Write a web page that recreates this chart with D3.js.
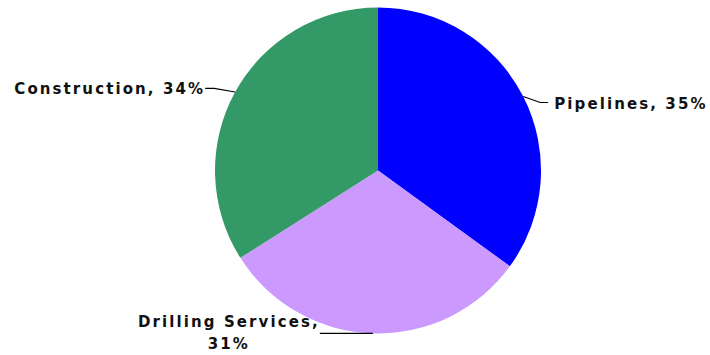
<!DOCTYPE html>
<html>
<head>
<meta charset="utf-8">
<script src="https://cdn.jsdelivr.net/npm/d3@7"></script>
<style>
  html, body { margin: 0; padding: 0; background: #ffffff; }
  svg { display: block; }
  text { font-family: "DejaVu Sans", Verdana, sans-serif; font-weight: bold; fill: #111; }
</style>
</head>
<body>
<svg id="chart" width="710" height="355"></svg>
<script>
const categories = ["Pipelines", "Drilling Services", "Construction"];
const shares = [35, 31, 34];
const colors = ["#0000FF", "#CC99FF", "#339966"];

const width = 710, height = 355;
const cx = 378, cy = 170.5, radius = 163;

const svg = d3.select("#chart");
const g = svg.append("g").attr("transform", `translate(${cx},${cy})`);

const data = categories.map((c, i) => ({ name: c, value: shares[i], color: colors[i] }));
const pie = d3.pie().value(d => d.value).sort(null);
const arc = d3.arc().innerRadius(0).outerRadius(radius);
const arcs = pie(data);

g.selectAll("path.slice").data(arcs).enter().append("path")
  .attr("class", "slice")
  .attr("d", arc)
  .attr("fill", d => d.data.color);

// label layouts (relative to the slice's outer edge point)
const layout = [
  { elbow: [17, 6], end: [25, 6], text: [31, 7.5], anchor: "start", lines: d => [`${d.data.name}, ${d.data.value}%`] },
  { elbow: [-52, 0], end: [-53, 0], text: [-144, -11], anchor: "middle", lines: d => [`${d.data.name},`, `${d.data.value}%`] },
  { elbow: [-21, -3.5], end: [-30, -3.5], text: [-30, -2.5], anchor: "end", lines: d => [`${d.data.name}, ${d.data.value}%`] }
];

arcs.forEach((d, i) => {
  const mid = (d.startAngle + d.endAngle) / 2;
  const ex = radius * Math.sin(mid), ey = -radius * Math.cos(mid);
  const L = layout[i];
  g.append("polyline")
    .attr("points", [[ex, ey], [ex + L.elbow[0], ey + L.elbow[1]], [ex + L.end[0], ey + L.end[1]]].map(p => p.join(",")).join(" "))
    .attr("fill", "none")
    .attr("stroke", "#000")
    .attr("stroke-width", 1.2);
  const t = g.append("text")
    .attr("x", ex + L.text[0])
    .attr("y", ey + L.text[1])
    .attr("text-anchor", L.anchor)
    .attr("dominant-baseline", "central")
    .style("font-size", "15px")
    .style("letter-spacing", "2.1px");
  L.lines(d).forEach((s, k) => {
    t.append("tspan").attr("x", ex + L.text[0]).attr("dy", k === 0 ? 0 : 22).text(s);
  });
});
</script>
</body>
</html>
